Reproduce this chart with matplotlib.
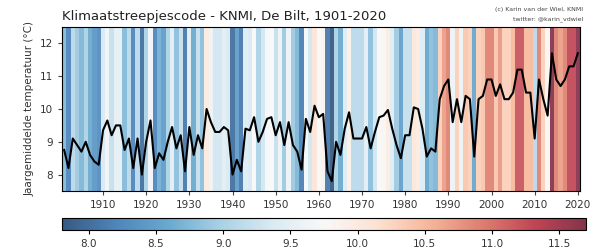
import numpy as np
import matplotlib
matplotlib.use("Agg")
import matplotlib.pyplot as plt
import matplotlib.colors as mcolors

years = np.arange(1901, 2021)
temps = [
    8.75, 8.2, 9.1, 8.9, 8.7, 9.0, 8.6, 8.4, 8.3, 9.35,   # 1901-1910
    9.65, 9.2, 9.5, 9.5, 8.75, 9.1, 8.2, 9.1, 8.0, 9.0,   # 1911-1920
    9.65, 8.2, 8.65, 8.45, 9.0, 9.45, 8.8, 9.2, 8.1, 9.45,  # 1921-1930
    8.6, 9.2, 8.8, 10.0, 9.6, 9.3, 9.3, 9.45, 9.35, 8.0,  # 1931-1940
    8.45, 8.1, 9.4, 9.35, 9.75, 9.0, 9.3, 9.7, 9.75, 9.2,  # 1941-1950
    9.6, 8.9, 9.6, 8.9, 8.7, 8.15, 9.7, 9.3, 10.1, 9.75,  # 1951-1960
    9.85, 8.1, 7.8, 9.0, 8.6, 9.4, 9.9, 9.1, 9.1, 9.1,    # 1961-1970
    9.45, 8.8, 9.3, 9.75, 9.8, 9.97, 9.4, 8.9, 8.5, 9.2,  # 1971-1980
    9.2, 10.05, 10.0, 9.4, 8.55, 8.8, 8.7, 10.3, 10.7, 10.9,  # 1981-1990
    9.6, 10.3, 9.6, 10.4, 10.3, 8.55, 10.3, 10.4, 10.9, 10.9,  # 1991-2000
    10.4, 10.75, 10.3, 10.3, 10.5, 11.2, 11.2, 10.5, 10.5, 9.1,  # 2001-2010
    10.9, 10.3, 9.8, 11.7, 10.9, 10.7, 10.9, 11.3, 11.3, 11.7,  # 2011-2020
]
temps = np.array(temps)

cbar_ticks = [8.0, 8.5, 9.0, 9.5, 10.0, 10.5, 11.0, 11.5]

fig = plt.figure(figsize=(6.03, 2.5), dpi=100)
ax = fig.add_axes([62 / 603, 1 - 191 / 250, 518 / 603, 164 / 250])
cax = fig.add_axes([62 / 603, 1 - 230 / 250, 524 / 603, 12 / 250])

cmap = plt.get_cmap("RdBu_r")
norm = mcolors.Normalize(vmin=temps.min(), vmax=temps.max())

ymin, ymax = 7.5, 12.5
ax.bar(years, ymax - ymin, bottom=ymin, width=1.0, color=cmap(norm(temps)),
       linewidth=0, alpha=0.75)
ax.plot(years, temps, color="black", lw=1.5)

ax.set_xlim(years[0] - 0.5, years[-1] + 0.5)
ax.set_ylim(ymin, ymax)
ax.set_xticks(np.arange(1910, 2021, 10))
ax.set_yticks([8, 9, 10, 11, 12])
ax.tick_params(labelsize=7.5, length=3, color="#444444", labelcolor="#333333")
ax.set_ylabel("Jaargemiddelde temperatuur (°C)", fontsize=7.5, color="#333333")
ax.set_title("Klimaatstreepjescode - KNMI, De Bilt, 1901-2020", loc="left",
             fontsize=9.5, color="#222222", pad=5)
fig.text(583 / 603, 1 - 10 / 250, "(c) Karin van der Wiel, KNMI", fontsize=4.5,
         ha="right", va="center", color="#444444")
fig.text(583 / 603, 1 - 19 / 250, "twitter: @karin_vdwiel", fontsize=4.5,
         ha="right", va="center", color="#444444")

sm = matplotlib.cm.ScalarMappable(norm=norm, cmap=cmap)
cb = fig.colorbar(sm, cax=cax, orientation="horizontal", ticks=cbar_ticks,
                  alpha=0.8)
cb.ax.set_xticklabels(["%.1f" % t for t in cbar_ticks])
cb.ax.tick_params(labelsize=7.5, length=3, labelcolor="#333333")

fig.savefig("out.png", dpi=100)
